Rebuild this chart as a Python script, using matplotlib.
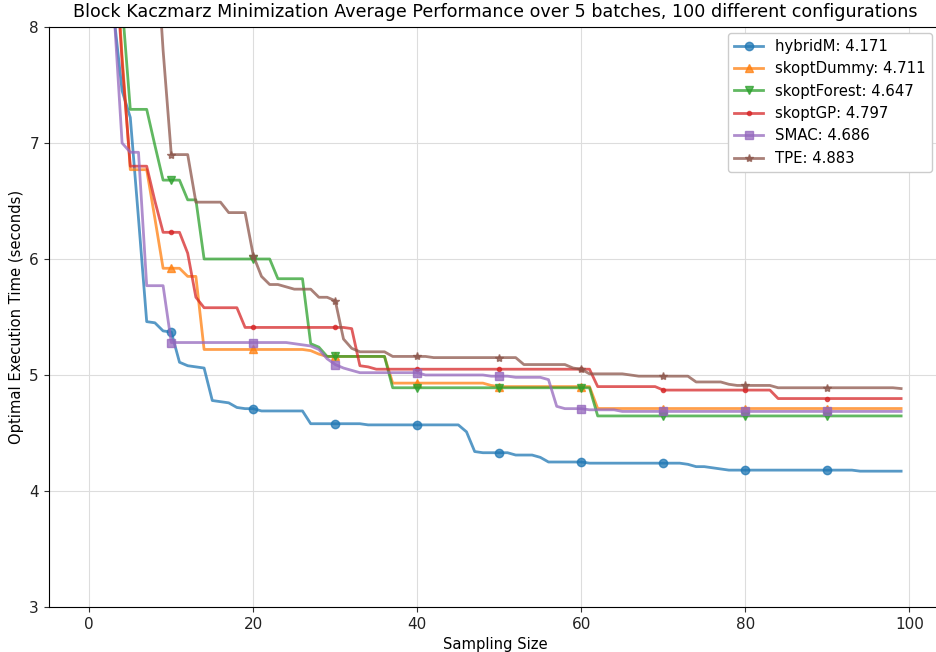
import numpy as np
import matplotlib
matplotlib.use("Agg")
import matplotlib.pyplot as plt

sampling = list(range(100))

hybridM = ([11.0, 9.8, 8.8, 8.1, 7.45, 7.22, 6.35, 5.46, 5.45, 5.38,
            5.37, 5.11, 5.08, 5.07, 5.06, 4.78, 4.77, 4.76, 4.72, 4.71,
            4.71] + [4.69] * 6 + [4.58] * 7 + [4.57] * 12 +
           [4.51, 4.34] + [4.33] * 4 + [4.31] * 3 + [4.29] + [4.25] * 5 +
           [4.24] * 12 + [4.23, 4.21, 4.21, 4.20, 4.19] + [4.18] * 16 + [4.171] * 6)

skoptDummy = ([12.0, 10.5, 9.6, 8.9, 7.75, 6.77, 6.77, 6.77, 6.35, 5.92,
               5.92, 5.92, 5.85, 5.85] + [5.22] * 13 + [5.21, 5.18] +
              [5.16] * 8 + [4.93] * 12 + [4.91] + [4.90] * 12 + [4.711] * 38)

skoptForest = ([12.0, 11.0, 10.0, 9.0, 8.2, 7.29, 7.29, 7.29, 6.98, 6.68,
                6.68, 6.68, 6.51, 6.51] + [6.0] * 9 + [5.83] * 4 +
               [5.27, 5.24] + [5.16] * 8 + [4.89] * 25 + [4.647] * 38)

skoptGP = ([12.0, 10.5, 9.5, 8.8, 7.7, 6.80, 6.80, 6.80, 6.5, 6.23,
            6.23, 6.23, 6.05, 5.67] + [5.58] * 5 + [5.41] * 13 + [5.40] +
           [5.08, 5.07] + [5.05] * 27 + [4.90] * 8 + [4.87] * 14 + [4.797] * 16)

SMAC = ([12.0, 10.5, 9.2, 8.15, 7.0, 6.92, 6.92, 5.77, 5.77, 5.77] +
        [5.28] * 15 + [5.27, 5.26, 5.25, 5.22, 5.14, 5.09, 5.06, 5.04] +
        [5.02] * 8 + [5.00] * 8 + [4.99] * 3 + [4.98] * 4 + [4.96, 4.73] +
        [4.71] * 3 + [4.70] * 4 + [4.686] * 35)

TPE = ([14.0, 12.0, 11.0, 10.3, 9.9, 9.6, 9.3, 9.1, 8.9, 7.8,
        6.90, 6.90, 6.90] + [6.49] * 4 + [6.40] * 3 +
       [6.03, 5.85, 5.78, 5.78, 5.76, 5.74, 5.74, 5.74, 5.67, 5.67, 5.64,
        5.31, 5.23] + [5.20] * 4 + [5.16] * 5 + [5.15] * 11 + [5.09] * 6 +
       [5.06, 5.05] + [5.01] * 5 + [5.00] + [4.99] * 7 + [4.94] * 4 +
       [4.92] + [4.91] * 5 + [4.89] * 15 + [4.883])

series_names = ["hybridM", "skoptDummy", "skoptForest", "skoptGP", "SMAC", "TPE"]
series_values = [hybridM, skoptDummy, skoptForest, skoptGP, SMAC, TPE]
markers = ["o", "^", "v", ".", "s", "*"]
colors = ["#1f77b4", "#ff7f0e", "#2ca02c", "#d62728", "#9467bd", "#8c564b"]

title = "Block Kaczmarz Minimization Average Performance over 5 batches, 100 different configurations"

fig = plt.figure(figsize=(9.37, 6.52), dpi=100)
ax = fig.add_axes([48.7 / 937, 45 / 652, 893 / 937, 580 / 652])

for name, vals, mk, c in zip(series_names, series_values, markers, colors):
    vals = np.asarray(vals, dtype=float)
    ax.plot(sampling, vals, marker=mk, markevery=10, color=c, alpha=0.75,
            lw=2, ms=6, label=f"{name}: {vals[-1]:.3f}")

ax.set_ylim(3, 8)
ax.set_xlim(-4.95, 103.95)
ax.set_xticks([0, 20, 40, 60, 80, 100])
ax.set_yticks([3, 4, 5, 6, 7, 8])
ax.grid(True, color="#dddddd", lw=0.8)
ax.set_axisbelow(True)
ax.tick_params(labelsize=11, colors="#333333", labelcolor="#222222")
ax.set_xlabel("Sampling Size", fontsize=10.6)
ax.set_ylabel("Optimal Execution Time (seconds)", fontsize=10.6)
ax.set_title(title, fontsize=12.6, pad=7)
ax.legend(loc="upper right", bbox_to_anchor=(0.989, 0.99), borderaxespad=0,
          fontsize=10.7, framealpha=1, edgecolor="#cccccc")

fig.savefig("out.png", dpi=100)
